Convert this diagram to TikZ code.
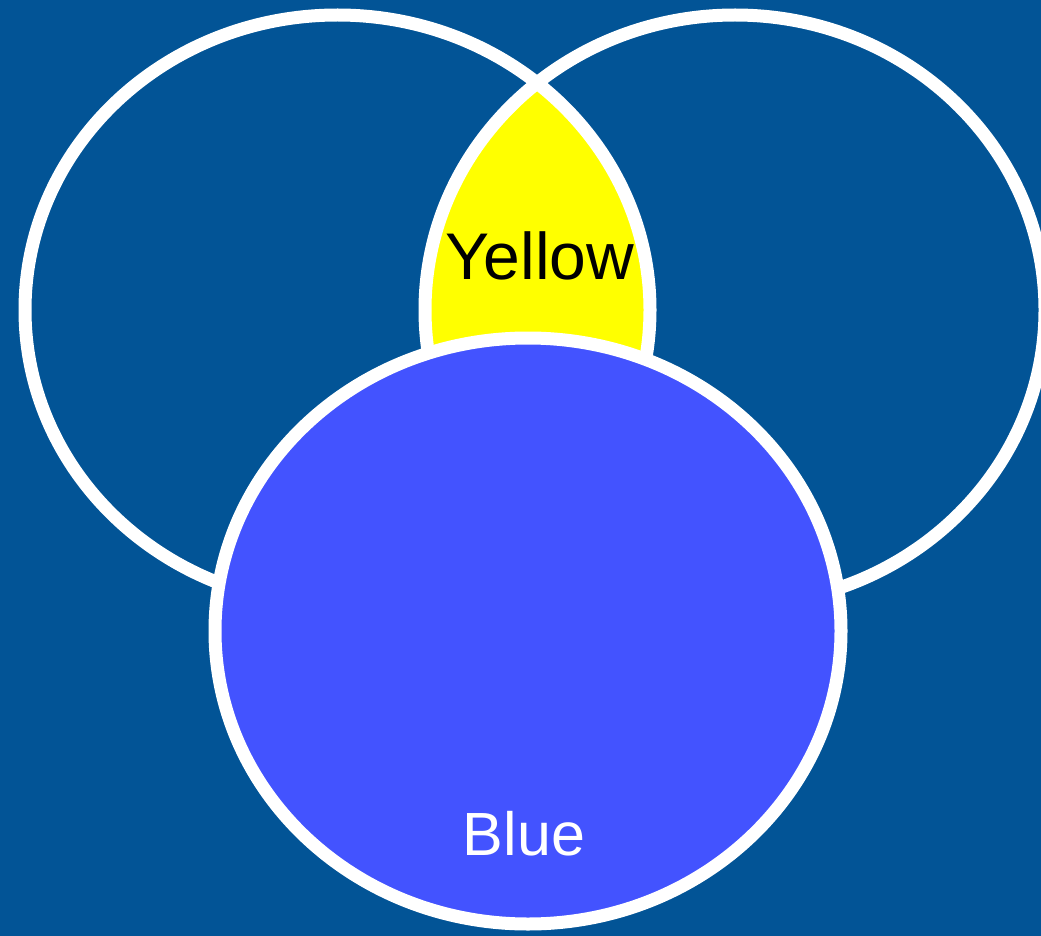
\documentclass[tikz,border=0pt]{standalone}
\usepackage{fontspec}
\setmainfont{Liberation Sans}
\definecolor{bgblue}{RGB}{2,84,150}
\definecolor{circblue}{RGB}{67,83,255}
\definecolor{lensyellow}{RGB}{255,255,0}
\tikzset{
  ring/.style={draw=white, line width=13pt},
  lbl/.style={inner sep=0pt, anchor=base}
}
\begin{document}
\begin{tikzpicture}[x=1pt,y=-1pt]
\useasboundingbox (0,0) rectangle (1041,936);
\clip (0,0) rectangle (1041,936);
\fill[bgblue] (0,0) rectangle (1041,936);
% yellow lens
\begin{scope}
  \clip (337.5,310) ellipse [x radius=312.5, y radius=295];
  \fill[lensyellow] (735,310) ellipse [x radius=310, y radius=295];
\end{scope}
\node[lbl, text=black, font=\fontsize{66}{72}\selectfont] (yellow) at (540,279) {Yellow};
% outlines
\draw[ring] (337.5,310) ellipse [x radius=312.5, y radius=295];
\draw[ring] (735,310) ellipse [x radius=310, y radius=295];
% blue circle
\draw[ring, fill=circblue] (528,631) ellipse [x radius=313, y radius=293];
\node[lbl, text=white, font=\fontsize{61}{68}\selectfont] (blue) at (524,855) {Blue};
\end{tikzpicture}
\end{document}
